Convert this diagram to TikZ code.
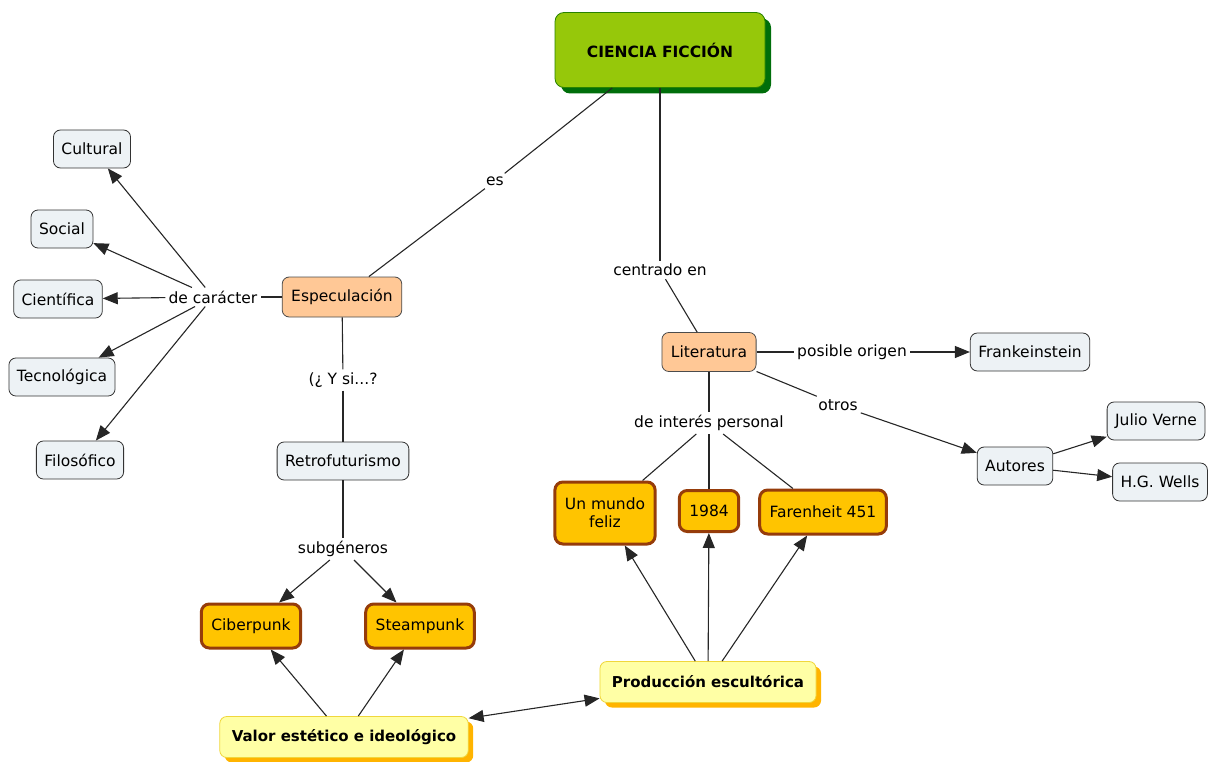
\documentclass[tikz,border=0pt]{standalone}
\usepackage{fontspec}
\setmainfont{DejaVu Sans}
\usetikzlibrary{arrows.meta,shadows}
\definecolor{cfgreen}{RGB}{150,200,10}
\definecolor{cfedge}{RGB}{40,130,0}
\definecolor{cfdark}{RGB}{0,110,10}
\definecolor{cbox}{RGB}{237,242,245}
\definecolor{spec}{RGB}{255,200,150}
\definecolor{book}{RGB}{255,196,0}
\definecolor{bookedge}{RGB}{150,60,10}
\definecolor{prodfill}{RGB}{255,255,165}
\definecolor{prodedge}{RGB}{240,215,60}
\definecolor{prodshade}{RGB}{255,180,0}

\begin{document}
\begin{tikzpicture}[
    x=1pt, y=-1pt,
    >={Triangle[length=15pt,width=12pt]},
    link/.style={draw=black!85, line width=1.1pt},
    txt/.style={font=\fontsize{15.5}{18}\selectfont},
    lbl/.style={txt, inner sep=3pt},
    con/.style={txt, draw=black!80, fill=cbox, rounded corners=7pt, line width=0.8pt,
                minimum height=38pt, inner xsep=8pt},
    key/.style={txt, draw=black!70, fill=spec, rounded corners=7pt, line width=0.8pt,
                minimum height=40pt, inner xsep=9pt},
    book/.style={txt, draw=bookedge, fill=book, rounded corners=8pt, line width=3pt,
                 minimum height=44pt, inner xsep=10pt, align=center},
    prod/.style={txt, font=\fontsize{15}{18}\selectfont\bfseries, draw=prodedge, fill=prodfill,
                 rounded corners=7pt, line width=0.8pt, minimum height=41pt, inner xsep=12pt,
                 drop shadow={shadow xshift=5pt, shadow yshift=-5pt, fill=prodshade, opacity=1}},
  ]
  \useasboundingbox (0,0) rectangle (1217,762);

  %% ---------------- root ----------------
  \node[txt, font=\fontsize{15.5}{18}\selectfont\bfseries, draw=cfedge, fill=cfgreen,
        rounded corners=9pt, line width=0.8pt, minimum width=210pt, minimum height=75pt,
        drop shadow={shadow xshift=6pt, shadow yshift=-6pt, fill=cfdark, opacity=1}]
        (cf) at (660,50) {CIENCIA FICCIÓN};

  %% ---------------- left branch ----------------
  \node[lbl] (es) at (495,181) {es};
  \node[key] (spe) at (342,297) {Especulación};
  \node[lbl] (dc) at (213,297) {de carácter};
  \node[con] (cult) at (92,149) {Cultural};
  \node[con] (soc) at (62,229) {Social};
  \node[con] (cie) at (58,299) {Científica};
  \node[con] (tec) at (62,377) {Tecnológica};
  \node[con] (fil) at (80,460) {Filosófico};
  \node[lbl] (ysi) at (343,380) {(¿ Y si...?};
  \node[con] (retro) at (343,461) {Retrofuturismo};
  \node[lbl] (sub) at (343,549) {subgéneros};
  \node[book] (cib) at (251,626) {Ciberpunk};
  \node[book] (ste) at (420,626) {Steampunk};

  %% ---------------- right branch ----------------
  \node[lbl] (cen) at (660,270) {centrado en};
  \node[key, minimum height=39pt] (lit) at (709,352) {Literatura};
  \node[lbl] (po) at (852,352) {posible origen};
  \node[con] (fra) at (1030,352) {Frankeinstein};
  \node[lbl] (otr) at (838,405) {otros};
  \node[con] (aut) at (1015,466) {Autores};
  \node[con] (jv) at (1156,421) {Julio Verne};
  \node[con] (hg) at (1160,482) {H.G. Wells};
  \node[lbl] (dip) at (709,423) {de interés personal};
  \node[book, minimum height=62pt] (umf) at (605,513) {Un mundo\\feliz};
  \node[book, minimum height=41pt] (nov) at (709,511) {1984};
  \node[book] (far) at (823,512) {Farenheit 451};

  %% ---------------- bottom ----------------
  \node[prod] (pe) at (708,682) {Producción escultórica};
  \node[prod] (val) at (344,737) {Valor estético e ideológico};

  %% ---------------- links ----------------
  \draw[link] (cf) -- (es);
  \draw[link] (es) -- (spe);
  \draw[link] (spe) -- (dc);
  \foreach \t in {cult,soc,cie,tec,fil} { \draw[link,->] (dc) -- (\t); }
  \draw[link] (spe) -- (ysi);
  \draw[link] (ysi) -- (retro);
  \draw[link] (retro) -- (sub);
  \draw[link,->] (sub) -- (cib);
  \draw[link,->] (sub) -- (ste);

  \draw[link] (cf) -- (cen);
  \draw[link] (cen) -- (lit);
  \draw[link] (lit) -- (po);
  \draw[link,->] (po) -- (fra);
  \draw[link] (lit) -- (otr);
  \draw[link,->] (otr) -- (aut);
  \draw[link,->] (aut) -- (jv);
  \draw[link,->] (aut) -- (hg);
  \draw[link] (lit) -- (dip);
  \foreach \t in {umf,nov,far} { \draw[link] (dip) -- (\t); }

  \foreach \t in {umf,nov,far} { \draw[link,->] (pe) -- (\t); }
  \draw[link,->] (val) -- (cib);
  \draw[link,->] (val) -- (ste);
  \draw[link,<->] (val) -- (pe);

\end{tikzpicture}
\end{document}
